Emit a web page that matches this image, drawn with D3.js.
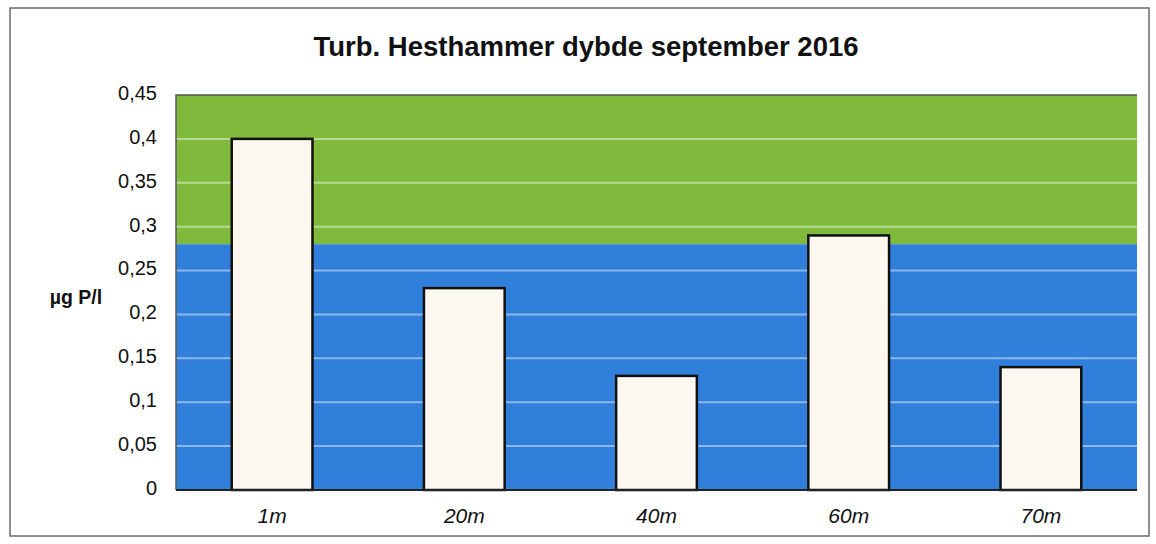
<!DOCTYPE html>
<html>
<head>
<meta charset="utf-8">
<script src="https://cdn.jsdelivr.net/npm/d3@7"></script>
<style>
  body { margin: 0; background: #fff; }
  text { font-family: 'Liberation Sans', Arial, sans-serif; }
</style>
</head>
<body>
<svg id="canvas" width="1156" height="544"></svg>
<script>
let depths = ['1m', '20m', '40m', '60m', '70m']
let values = [0.4, 0.23, 0.13, 0.29, 0.14]
let yTicks = [0, 0.05, 0.1, 0.15, 0.2, 0.25, 0.3, 0.35, 0.4, 0.45]
let greenFrom = 0.28   // above this the background is green

let canvas = d3.select('#canvas')
let margin = { left: 176, right: 1137, top: 95, bottom: 490 }

// frame round the chart
canvas.append('rect')
  .attr('x', 10).attr('y', 8)
  .attr('width', 1139).attr('height', 528)
  .attr('fill', 'none')
  .attr('stroke', '#6a6a6a')
  .attr('stroke-width', 1.5)

let x = d3.scaleBand()
  .domain(depths)
  .range([margin.left, margin.right])
  .paddingInner(0.58)
  .paddingOuter(0.29)

let y = d3.scaleLinear()
  .domain([0, 0.45])
  .range([margin.bottom, margin.top])

// backgrounds
canvas.append('rect')
  .attr('x', margin.left).attr('y', y(0.45))
  .attr('width', margin.right - margin.left)
  .attr('height', y(greenFrom) - y(0.45))
  .attr('fill', '#7fba3c')
canvas.append('rect')
  .attr('x', margin.left).attr('y', y(greenFrom))
  .attr('width', margin.right - margin.left)
  .attr('height', y(0) - y(greenFrom))
  .attr('fill', '#2f7fdb')

// gridlines
canvas.selectAll('.grid')
  .data(yTicks.filter(t => t > 0 && t < 0.45))
  .enter()
  .append('line')
  .attr('class', 'grid')
  .attr('x1', margin.left).attr('x2', margin.right)
  .attr('y1', d => y(d)).attr('y2', d => y(d))
  .attr('stroke', '#ffffff')
  .attr('stroke-opacity', 0.45)
  .attr('stroke-width', 2)

// plot border
canvas.append('path')
  .attr('d', `M${margin.left},${margin.bottom}V${margin.top}H${margin.right}`)
  .attr('fill', 'none')
  .attr('stroke', '#555')
  .attr('stroke-width', 1.5)

// bars
canvas.selectAll('.bar')
  .data(values)
  .enter()
  .append('rect')
  .attr('class', 'bar')
  .attr('x', (d, i) => x(depths[i]))
  .attr('y', d => y(d))
  .attr('width', x.bandwidth())
  .attr('height', d => y(0) - y(d))
  .attr('fill', '#fcf8f0')
  .attr('stroke', '#111')
  .attr('stroke-width', 2.5)

// x axis line
canvas.append('line')
  .attr('x1', margin.left).attr('x2', margin.right)
  .attr('y1', margin.bottom).attr('y2', margin.bottom)
  .attr('stroke', '#222')
  .attr('stroke-width', 2)

// y axis labels
let yAxis = d3.axisLeft(y)
  .tickValues(yTicks)
  .tickSize(0)
  .tickPadding(19)
  .tickFormat(d => String(+d.toFixed(2)).replace('.', ','))

canvas.append('g')
  .attr('transform', `translate(${margin.left},-2)`)
  .call(yAxis)
  .call(g => g.select('.domain').remove())
  .selectAll('text')
  .attr('font-size', 20)
  .attr('fill', '#111')
  .style('font-family', "'Liberation Sans', Arial, sans-serif")

// x axis labels
let xAxis = d3.axisBottom(x).tickSize(0).tickPadding(18)
canvas.append('g')
  .attr('transform', `translate(0,${margin.bottom})`)
  .call(xAxis)
  .call(g => g.select('.domain').remove())
  .selectAll('text')
  .attr('font-size', 21)
  .attr('font-style', 'italic')
  .attr('fill', '#111')
  .style('font-family', "'Liberation Sans', Arial, sans-serif")

// title
canvas.append('text')
  .attr('x', 586).attr('y', 56)
  .attr('text-anchor', 'middle')
  .attr('font-size', 27.5)
  .attr('font-weight', 'bold')
  .attr('fill', '#111')
  .text('Turb. Hesthammer dybde september 2016')

// y label
canvas.append('text')
  .attr('x', 76).attr('y', 304)
  .attr('text-anchor', 'middle')
  .attr('font-size', 19.5)
  .attr('font-weight', 'bold')
  .attr('fill', '#111')
  .text('µg P/l')
</script>
</body>
</html>
